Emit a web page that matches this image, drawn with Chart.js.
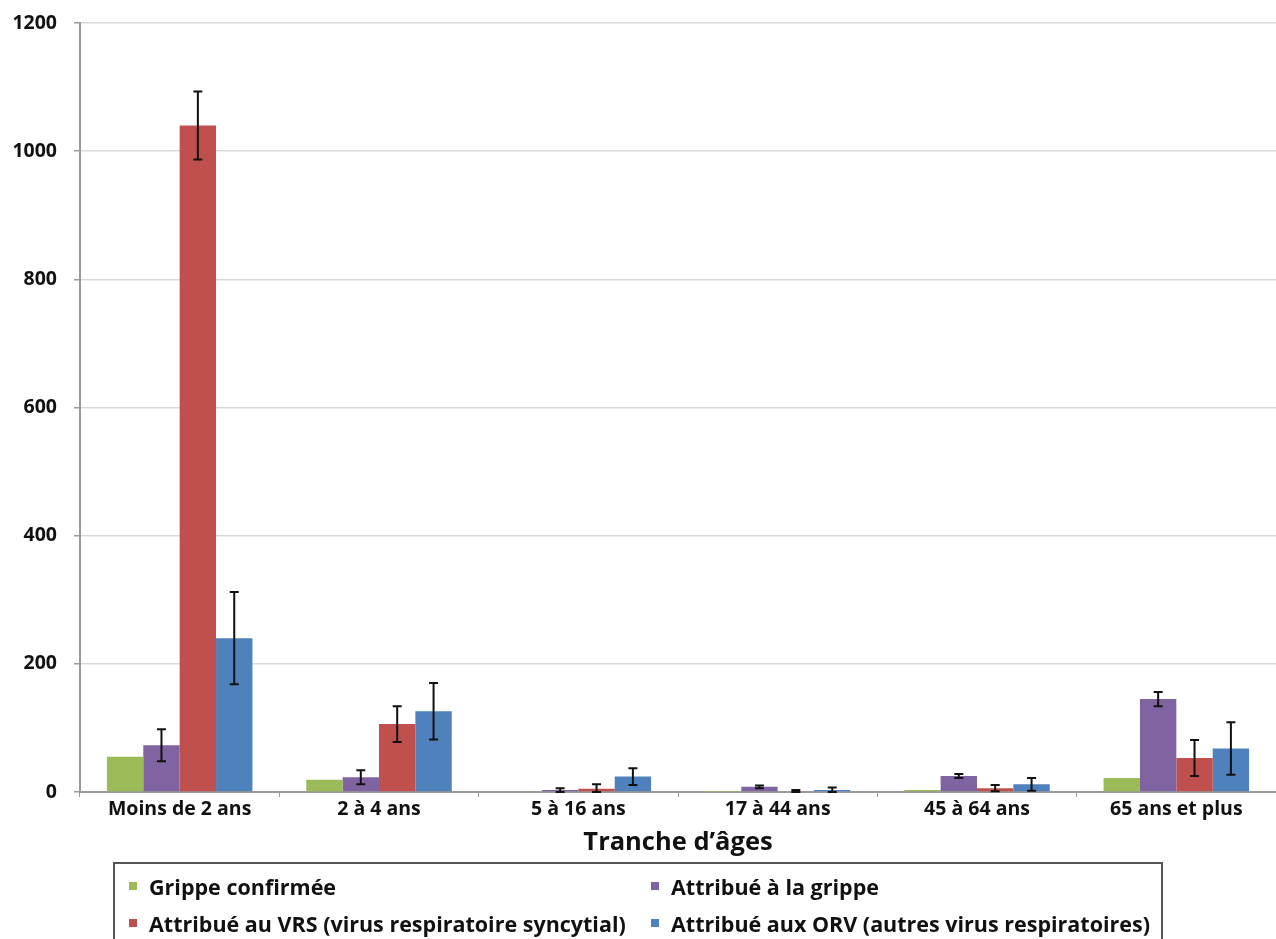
<!DOCTYPE html>
<html lang="fr">
<head>
<meta charset="utf-8">
<title>Tranche d'âges</title>
<script src="https://cdn.jsdelivr.net/npm/chart.js@4/dist/chart.umd.min.js"></script>
<style>
  html, body { margin: 0; padding: 0; background: #fff; }
  #wrap { position: relative; width: 1276px; height: 939px; overflow: hidden; }
  #chart { position: absolute; left: 0; top: 0; }
  #legend {
    position: absolute; left: 113px; top: 862px; width: 1046px; height: 110px;
    border: 2px solid #555; box-sizing: content-box;
  }
  .item { position: absolute; display: flex; align-items: center; white-space: nowrap;
    font: 700 21.5px "Open Sans", sans-serif; color: #111; height: 26px; }
  .swatch { width: 8px; height: 8px; margin-right: 12px; flex: none; }
</style>
</head>
<body>
<div id="wrap">
  <canvas id="chart" width="1276" height="939"></canvas>
  <div id="legend"></div>
</div>
<script>
// Age groups along the x axis
const categories = ['Moins de 2 ans', '2 à 4 ans', '5 à 16 ans', '17 à 44 ans', '45 à 64 ans', '65 ans et plus'];

// Series names
const seriesNames = [
  'Grippe confirmée',
  'Attribué à la grippe',
  'Attribué au VRS (virus respiratoire syncytial)',
  'Attribué aux ORV (autres virus respiratoires)'
];

// Values per age group
const grippeConfirmee = [55, 19, 1, 0.5, 3, 22];
const attribueGrippe  = [73, 23, 3, 8, 25, 145];
const attribueVRS     = [1040, 106, 5, 1, 6, 53];
const attribueORV     = [240, 126, 24, 3, 12, 68];

// Half-widths of the error bars (null = no error bar)
const errGrippeConfirmee = [null, null, null, null, null, null];
const errAttribueGrippe  = [25, 11, 3, 2, 3, 11];
const errAttribueVRS     = [53, 28, 7, 2, 5, 28];
const errAttribueORV     = [72, 44, 13, 4, 10, 41];

// Y axis ticks
const yTicks = [0, 200, 400, 600, 800, 1000, 1200];

const xTitle = 'Tranche d’âges';

const colors = ['#9BBB59', '#8064A2', '#C0504D', '#4F81BD'];
const seriesValues = [grippeConfirmee, attribueGrippe, attribueVRS, attribueORV];
const seriesErrors = [errGrippeConfirmee, errAttribueGrippe, errAttribueVRS, errAttribueORV];

const FONT = '"Open Sans", sans-serif';

// Draws the error bars and the x-axis title
const errorBarPlugin = {
  id: 'errorBars',
  afterDatasetsDraw(chart) {
    const ctx = chart.ctx;
    const y = chart.scales.y;
    ctx.save();
    ctx.strokeStyle = '#111';
    ctx.lineWidth = 2;
    chart.data.datasets.forEach((ds, di) => {
      const meta = chart.getDatasetMeta(di);
      const errs = seriesErrors[di];
      meta.data.forEach((bar, i) => {
        const e = errs[i];
        if (e == null) return;
        const v = ds.data[i];
        const yTop = y.getPixelForValue(v + e);
        const yBot = y.getPixelForValue(Math.max(0, v - e));
        const x = bar.x;
        ctx.beginPath();
        ctx.moveTo(x, yTop); ctx.lineTo(x, yBot);
        ctx.moveTo(x - 4.5, yTop); ctx.lineTo(x + 4.5, yTop);
        ctx.moveTo(x - 4.5, yBot); ctx.lineTo(x + 4.5, yBot);
        ctx.stroke();
      });
    });
    ctx.restore();
  },
  afterDraw(chart) {
    const ctx = chart.ctx;
    const a = chart.chartArea;
    ctx.save();
    ctx.fillStyle = '#111';
    ctx.font = '700 25.5px ' + FONT;
    ctx.textAlign = 'center';
    ctx.textBaseline = 'middle';
    ctx.fillText(xTitle, (a.left + a.right) / 2, 843);
    ctx.restore();
  }
};

new Chart(document.getElementById('chart'), {
  type: 'bar',
  data: {
    labels: categories,
    datasets: seriesNames.map((name, i) => ({
      label: name,
      data: seriesValues[i],
      backgroundColor: colors[i],
      borderWidth: 0,
      barPercentage: 1.0,
      categoryPercentage: 0.73
    }))
  },
  options: {
    responsive: false,
    animation: false,
    layout: { padding: { top: 23, right: 0, left: 0, bottom: 0 } },
    plugins: { legend: { display: false }, tooltip: { enabled: false } },
    scales: {
      x: {
        grid: { display: true, drawOnChartArea: false, drawTicks: true, tickLength: 5, color: '#9a9a9a', offset: true },
        border: { display: true, color: '#9a9a9a', width: 2 },
        ticks: { color: '#111', font: { family: FONT, size: 19.5, weight: '700' }, padding: 1, maxRotation: 0 },
        afterFit(scale) { scale.height = 147; }
      },
      y: {
        min: 0, max: 1200,
        afterBuildTicks(scale) { scale.ticks = yTicks.map(v => ({ value: v })); },
        grid: { color: '#d9d9d9', lineWidth: 1.5, tickLength: 6, tickColor: '#9a9a9a' },
        border: { display: true, color: '#9a9a9a', width: 2 },
        ticks: {
          color: '#111', font: { family: FONT, size: 19.5, weight: '700' }, padding: 17,
          callback: (v) => String(v)
        },
        afterFit(scale) {
          scale.width = 80;
          scale.paddingTop = 0;
          scale.paddingBottom = 0;
        }
      }
    }
  },
  plugins: [errorBarPlugin]
});

// Legend: two columns, two rows
const legendPos = [
  { left: 14, top: 9 }, { left: 536, top: 9 },
  { left: 14, top: 46 }, { left: 536, top: 46 }
];
const legend = document.getElementById('legend');
seriesNames.forEach((name, i) => {
  const item = document.createElement('div');
  item.className = 'item';
  item.style.left = legendPos[i].left + 'px';
  item.style.top = legendPos[i].top + 'px';
  const sw = document.createElement('span');
  sw.className = 'swatch';
  sw.style.background = colors[i];
  const tx = document.createElement('span');
  tx.textContent = name;
  item.appendChild(sw);
  item.appendChild(tx);
  legend.appendChild(item);
});
</script>
</body>
</html>
